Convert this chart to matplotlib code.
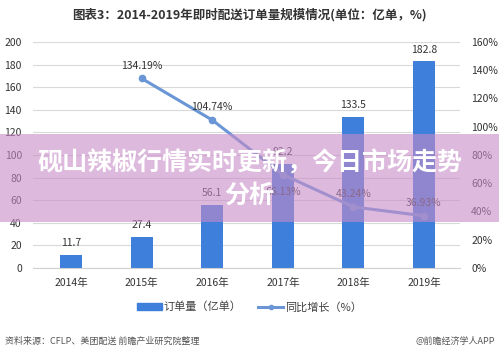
import matplotlib
matplotlib.use("Agg")
import matplotlib.pyplot as plt
from matplotlib.patches import Rectangle
from matplotlib.lines import Line2D

plt.rcParams['font.family'] = ['Noto Sans CJK SC', 'DejaVu Sans']

years = ['2014年', '2015年', '2016年', '2017年', '2018年', '2019年']
orders = [11.7, 27.4, 56.1, 92.2, 133.5, 182.8]
growth_years_idx = [1, 2, 3, 4, 5]
growth = [134.19, 104.74, 66.13, 43.24, 36.93]
left_ticks = [0, 20, 40, 60, 80, 100, 120, 140, 160, 180, 200]
right_ticks = [0, 20, 40, 60, 80, 100, 120, 140, 160]

bar_color = '#3d7fdb'
line_color = '#6a96d6'
txt = '#333333'

fig = plt.figure(figsize=(4.99, 3.57), dpi=100)
ax = fig.add_axes([0.0661, 0.2493, 0.8557, 0.6331])
ax2 = ax.twinx()

x = list(range(len(years)))
ax.bar(x, orders, width=0.31, color=bar_color, zorder=2)
for xi, v in zip(x, orders):
    ax.text(xi, v + 6, f'{v}', ha='center', va='bottom', fontsize=7.5, color=txt)

ax.set_ylim(0, 200)
ax.set_yticks(left_ticks)
ax.set_xlim(-0.54, 5.51)
ax.set_xticks(x)
ax.set_xticklabels(years, fontsize=7.5, color=txt)
ax.tick_params(axis='y', labelsize=7.5, colors=txt, length=0, pad=8)
ax.tick_params(axis='x', length=0, pad=7)
ax.grid(axis='y', color='#d9d9d9', linewidth=0.8, zorder=0)
ax.set_axisbelow(True)
for s in ['top', 'right', 'left']:
    ax.spines[s].set_visible(False)
ax.spines['bottom'].set_color('#d0d0d0')

ax2.plot(growth_years_idx, growth, color=line_color, linewidth=2.2, marker='o',
         markersize=4.5, zorder=3)
ax2.set_ylim(0, 160)
ax2.set_yticks(right_ticks)
ax2.set_yticklabels([f'{t}%' for t in right_ticks])
ax2.tick_params(axis='y', labelsize=7.5, colors=txt, length=0, pad=8)
for s in ['top', 'right', 'left', 'bottom']:
    ax2.spines[s].set_visible(False)
offsets = [9, 9, -12, 9, 9]
for xi, v, off in zip(growth_years_idx, growth, offsets):
    ax2.text(xi, v + off, f'{v:.2f}%', ha='center', va='center', fontsize=7.5, color=txt)

# Title
fig.text(0.5, 1 - 15 / 357, '图表3：2014-2019年即时配送订单量规模情况(单位：亿单，%)',
         ha='center', va='center', fontsize=9, fontweight='bold', color='#333333')

# Legend
leg_handles = [Rectangle((0, 0), 1, 1, color=bar_color),
               Line2D([0], [0], color=line_color, linewidth=2.2, marker='o', markersize=3)]
fig.legend(leg_handles, ['订单量（亿单）', '同比增长（%）'], loc='center',
           bbox_to_anchor=(0.5, 1 - 307 / 357), ncol=2, frameon=False,
           fontsize=8, handlelength=2.2, handleheight=0.5, columnspacing=1.5,
           handletextpad=0.2, labelcolor='#404040')

# Footer
fig.text(5 / 499, 1 - 341 / 357, '资料来源：CFLP、美团配送 前瞻产业研究院整理',
         ha='left', va='center', fontsize=6.5, color='#555555')
fig.text(495 / 499, 1 - 341 / 357, '@前瞻经济学人APP',
         ha='right', va='center', fontsize=6.5, color='#555555')

# Banner overlay
fig.patches.append(Rectangle((0, 1 - 222 / 357), 1, 88 / 357, transform=fig.transFigure,
                             facecolor=(0.78, 0.55, 0.78), alpha=0.6, zorder=10,
                             edgecolor='none'))
fig.text(0.5, 1 - 163 / 357, '砚山辣椒行情实时更新，今日市场走势',
         ha='center', va='center', fontsize=18, fontweight='bold', color='white', zorder=11)
fig.text(0.5, 1 - 196 / 357, '分析',
         ha='center', va='center', fontsize=18, fontweight='bold', color='white', zorder=11)

fig.savefig('out.png', dpi=100)
